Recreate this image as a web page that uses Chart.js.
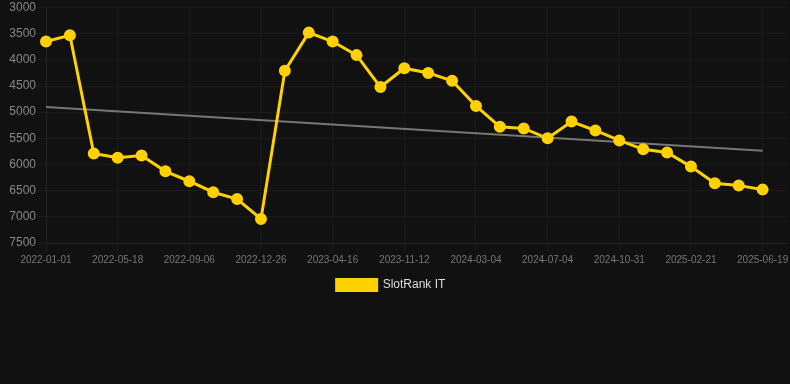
<!DOCTYPE html>
<html>
<head>
<meta charset="utf-8">
<script src="https://cdn.jsdelivr.net/npm/chart.js@4/dist/chart.umd.min.js"></script>
<style>
  html, body { margin: 0; padding: 0; background: #111111; overflow: hidden; }
  #wrap { position: relative; width: 794px; height: 301px; }
</style>
</head>
<body>
<div id="wrap"><canvas id="c"></canvas></div>
<script>
const dates = [
  "2022-01-01","2022-02-15","2022-04-01","2022-05-18","2022-06-20","2022-07-25",
  "2022-09-06","2022-10-15","2022-11-20","2022-12-26","2023-02-05","2023-03-10",
  "2023-04-16","2023-06-20","2023-09-01","2023-11-12","2023-12-20","2024-01-30",
  "2024-03-04","2024-04-15","2024-05-25","2024-07-04","2024-08-15","2024-09-20",
  "2024-10-31","2024-12-10","2025-01-15","2025-02-21","2025-04-01","2025-05-10",
  "2025-06-19","2025-07-31"
];
const rankValues = [
  3650, 3530, 5790, 5870, 5830, 6130, 6320, 6530, 6660, 7040,
  4210, 3480, 3650, 3910, 4520, 4160, 4250, 4400, 4880, 5280,
  5310, 5500, 5180, 5350, 5540, 5710, 5770, 6040, 6360, 6400,
  6480, null
];
const trendStart = 4900;
const trendEnd = 5735;
const trendValues = dates.map((d, i) => i === 0 ? trendStart : (i === 30 ? trendEnd : null));
const yTicks = [3000, 3500, 4000, 4500, 5000, 5500, 6000, 6500, 7000, 7500];

new Chart(document.getElementById('c'), {
  type: 'line',
  data: {
    labels: dates,
    datasets: [
      {
        label: 'SlotRank IT',
        data: rankValues,
        borderColor: '#FFD100',
        backgroundColor: '#FFD100',
        borderWidth: 3,
        pointRadius: 4.5,
        pointHoverRadius: 4.5,
        pointBackgroundColor: '#FFD100',
        pointBorderColor: '#FFD100',
        tension: 0
      },
      {
        label: 'trend',
        data: trendValues,
        borderColor: '#777777',
        borderWidth: 2,
        pointRadius: 0,
        spanGaps: true,
        tension: 0
      }
    ]
  },
  options: {
    responsive: true,
    maintainAspectRatio: false,
    animation: false,
    layout: { padding: { left: -12, right: 0, top: 6, bottom: 0 } },
    plugins: {
      legend: {
        position: 'bottom',
        labels: {
          color: '#dddddd',
          boxWidth: 40,
          boxHeight: 11,
          font: { family: 'Liberation Sans, Arial, sans-serif', size: 12 },
          filter: (item) => item.text !== 'trend'
        }
      },
      tooltip: { enabled: false }
    },
    scales: {
      x: {
        afterFit: (s) => { s.paddingLeft = 0; s.paddingRight = 0; },
        grid: { color: 'rgba(255,255,255,0.045)' },
        border: { color: 'rgba(255,255,255,0.045)' },
        ticks: {
          autoSkip: false,
          maxRotation: 0,
          color: '#777777',
          font: { family: 'Liberation Sans, Arial, sans-serif', size: 10 },
          callback: function (v, i) { return (i % 3 === 0 && i <= 30) ? dates[i] : null; }
        }
      },
      y: {
        reverse: true,
        min: 3000,
        max: 7500,
        afterBuildTicks: (axis) => { axis.ticks = yTicks.map(v => ({ value: v })); },
        afterFit: (s) => { s.width = 58; s.paddingTop = 0; s.paddingBottom = 0; },
        grid: { color: 'rgba(255,255,255,0.045)' },
        border: { color: 'rgba(255,255,255,0.045)' },
        ticks: {
          padding: 2,
          color: '#888888',
          font: { family: 'Liberation Sans, Arial, sans-serif', size: 12 },
          callback: (v) => String(v)
        }
      }
    }
  }
});
</script>
</body>
</html>
